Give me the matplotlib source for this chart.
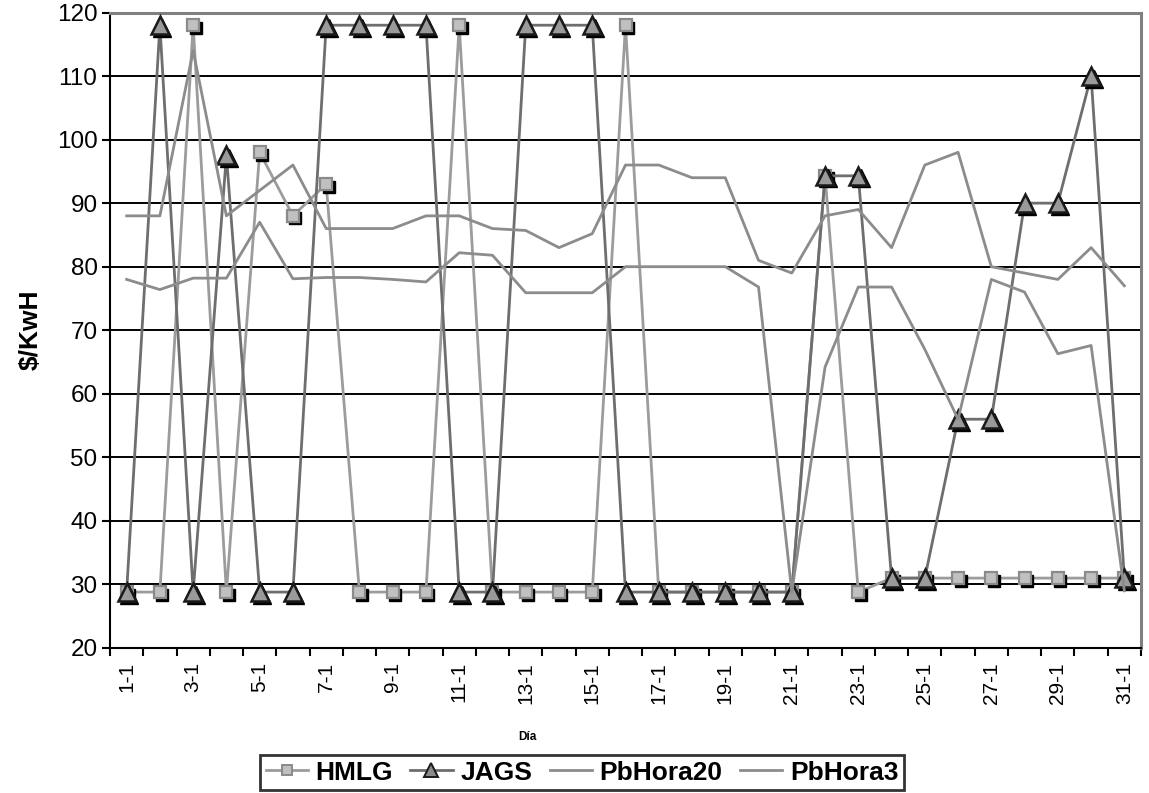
import numpy as np
import matplotlib
matplotlib.use("Agg")
import matplotlib.pyplot as plt
from matplotlib.lines import Line2D
from matplotlib.transforms import offset_copy

# ---------------------------------------------------------
# data
# ---------------------------------------------------------
days = list(range(1, 32))
day_labels = [f"{d}-1" for d in days]

hmlg = [28.8, 28.8, 118, 28.8, 98, 88, 93, 28.8, 28.8, 28.8,
        118, 28.8, 28.8, 28.8, 28.8, 118, 28.8, 28.8, 28.8, 28.8,
        28.8, 94.3, 28.8, 31, 31, 31, 31, 31, 31, 31, 31]

jags = [28.8, 118, 28.8, 97.5, 28.8, 28.8, 118, 118, 118, 118,
        28.8, 28.8, 118, 118, 118, 28.8, 28.8, 28.8, 28.8, 28.8,
        28.8, 94.3, 94.3, 31, 31, 56, 56, 90, 90, 110, 31]

pb_hora20 = [88, 88, 114, 88, 92, 96, 86, 86, 86, 88,
             88, 86, 85.7, 83, 85.2, 96, 96, 94, 94, 81,
             79, 88, 89, 83, 96, 98, 80, 79, 78, 83, 77]

pb_hora3 = [78, 76.4, 78.2, 78.2, 87, 78.1, 78.3, 78.3, 78, 77.6,
            82.2, 81.8, 75.9, 75.9, 75.9, 80, 80, 80, 80, 76.8,
            28.8, 64.2, 76.8, 76.8, 67, 56, 78, 76, 66.3, 67.6, 29]

y_ticks = list(range(20, 121, 10))

# ---------------------------------------------------------
# style
# ---------------------------------------------------------
plt.rcParams.update({
    "font.family": ["Liberation Sans", "DejaVu Sans"],
    "axes.linewidth": 1.5,
})

hmlg_line = "#9c9c9c"
jags_line = "#6e6e6e"
pb_color = "#8c8c8c"
grid_color = "black"
frame_gray = "#808080"

fig = plt.figure(figsize=(11.49, 7.93), dpi=100)
ax = fig.add_axes([110 / 1149, 1 - 648 / 793, 1031 / 1149, 635.5 / 793])

x = np.array(days)

# black drop shadow for the markers, like the Excel original
shadow = offset_copy(ax.transData, fig=fig, x=2.5, y=-2.5, units="dots")

# HMLG
ax.plot(x, hmlg, color=hmlg_line, lw=2.0, zorder=3)
ax.plot(x, hmlg, ls="none", marker="s", ms=8.5, mfc="black", mec="black",
        transform=shadow, zorder=3.1)
ax.plot(x, hmlg, ls="none", marker="s", ms=8.5, mfc="#c0c0c0",
        mec="#8a8a8a", mew=1.6, zorder=3.2)

# JAGS
ax.plot(x, jags, color=jags_line, lw=2.0, zorder=4)
ax.plot(x, jags, ls="none", marker="^", ms=12.5, mfc="black", mec="black",
        transform=shadow, zorder=4.1)
ax.plot(x, jags, ls="none", marker="^", ms=12.5, mfc="#9a9a9a",
        mec="#1a1a1a", mew=1.8, zorder=4.2)

# hourly prices
ax.plot(x, pb_hora20, color=pb_color, lw=2.0, zorder=5)
ax.plot(x, pb_hora3, color=pb_color, lw=2.0, zorder=5)

# ---------------------------------------------------------
# axes
# ---------------------------------------------------------
ax.set_xlim(0.5, 31.5)
ax.set_ylim(20, 120)

ax.set_yticks(y_ticks)
ax.tick_params(axis="y", direction="out", length=6, width=1.5,
               labelsize=17.5, pad=3)
for t in y_ticks[1:-1]:
    ax.axhline(t, color=grid_color, lw=1.4, zorder=1)

# category axis: tick marks between categories, labels every second day
ax.set_xticks(np.arange(0.5, 32, 1.0), minor=True)
ax.set_xticks(x[::2])
ax.set_xticklabels(day_labels[::2], rotation=90, fontsize=15)
ax.tick_params(axis="x", which="major", length=0, pad=10)
ax.tick_params(axis="x", which="minor", direction="out", length=6, width=1.5)

ax.spines["left"].set_color("black")
ax.spines["bottom"].set_color("black")
ax.spines["top"].set_color(frame_gray)
ax.spines["right"].set_color(frame_gray)
ax.spines["top"].set_linewidth(2.2)
ax.spines["right"].set_linewidth(2.2)

ax.set_ylabel("$/KwH", fontsize=19, fontweight="bold", labelpad=10)
fig.text(527 / 1149, 1 - 737 / 793, "Día", fontsize=8.5, fontweight="bold",
         ha="center", va="center")

# ---------------------------------------------------------
# legend
# ---------------------------------------------------------
handles = [
    Line2D([0], [0], color=hmlg_line, lw=2.0, marker="s", ms=7,
           mfc="#c0c0c0", mec="#8a8a8a", mew=1.4, label="HMLG"),
    Line2D([0], [0], color=jags_line, lw=2.0, marker="^", ms=10,
           mfc="#8a8a8a", mec="#1a1a1a", mew=1.4, label="JAGS"),
    Line2D([0], [0], color=pb_color, lw=2.0, label="PbHora20"),
    Line2D([0], [0], color=pb_color, lw=2.0, label="PbHora3"),
]
leg = fig.legend(handles=handles, loc="lower center", ncol=4,
                 bbox_to_anchor=(582 / 1149, 0.0), frameon=True,
                 fancybox=False, edgecolor="black",
                 prop={"size": 19, "weight": "bold"},
                 handlelength=1.6, handletextpad=0.3, columnspacing=0.65,
                 borderpad=0.22, borderaxespad=0.1)
leg.get_frame().set_linewidth(2.0)

fig.savefig("out.png", dpi=100)
